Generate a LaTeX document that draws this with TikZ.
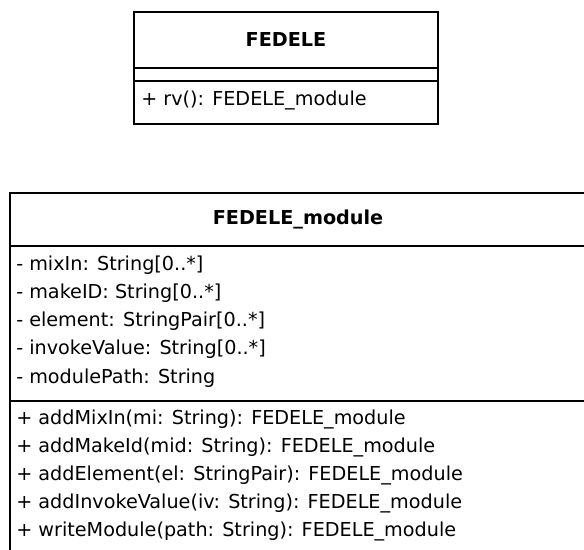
\documentclass[tikz,border=0pt]{standalone}
\usepackage{fontspec}
\setmainfont{DejaVu Sans}
\begin{document}
\begin{tikzpicture}[x=0.75pt,y=-0.75pt,
  part/.style={draw=black, line width=1.5pt, rectangle, inner sep=0pt, anchor=north west},
  title/.style={font=\fontsize{14.4pt}{16pt}\selectfont\bfseries, inner sep=0pt},
  member/.style={font=\fontsize{14.4pt}{16pt}\selectfont, inner sep=0pt, anchor=west}]
\useasboundingbox (0,0) rectangle (584,549);
\clip (0,0) rectangle (584,549);
% FEDELE class
\node[part, minimum width=228pt, minimum height=42pt] (fh) at (133,11) {};
\node[part, minimum width=228pt, minimum height=9.75pt] (fa) at (133,67) {};
\node[part, minimum width=228pt, minimum height=32.25pt] (fm) at (133,80) {};
\node[title] (ft) at (fh.center) {FEDELE};
\node[member] (f1) at (141,100) {+ rv(): FEDELE\_module};
% FEDELE_module class
\node[part, minimum width=432pt, minimum height=39.75pt] (mh) at (9,192) {};
\node[part, minimum width=432pt, minimum height=116.25pt] (ma) at (9,245) {};
\node[part, minimum width=432pt, minimum height=120pt] (mm) at (9,400) {};
\node[title] (mt) at (mh.center) {FEDELE\_module};
\node[member] (a1) at (16,265) {- mixIn: String[0..*]};
\node[member] (a2) at (16,293) {- makeID: String[0..*]};
\node[member] (a3) at (16,321) {- element: StringPair[0..*]};
\node[member] (a4) at (16,349) {- invokeValue: String[0..*]};
\node[member] (a5) at (16,378) {- modulePath: String};
\node[member] (m1) at (16,419) {+ addMixIn(mi: String): FEDELE\_module};
\node[member] (m2) at (16,447) {+ addMakeId(mid: String): FEDELE\_module};
\node[member] (m3) at (16,475) {+ addElement(el: StringPair): FEDELE\_module};
\node[member] (m4) at (16,503) {+ addInvokeValue(iv: String): FEDELE\_module};
\node[member] (m5) at (16,531) {+ writeModule(path: String): FEDELE\_module};
\end{tikzpicture}
\end{document}
